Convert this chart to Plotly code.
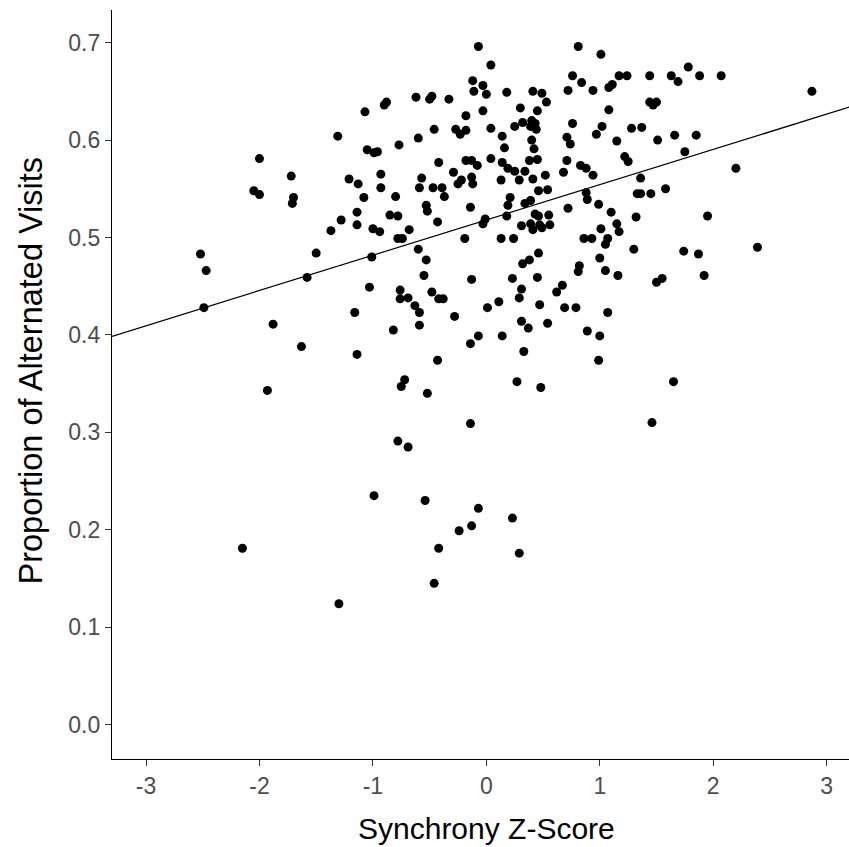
import plotly.graph_objects as go

# Synchrony Z-score (x) and proportion of alternated visits (y)
x_upper_left = [-0.88, -0.90, -1.07, -1.31, -0.77, -1.05, -0.99, -0.96, -2.00, -1.72,
                -1.21, -1.13, -0.93, -0.93, -2.05, -2.00, -1.70, -1.71, -1.08, -0.80,
                -1.14, -0.85, -0.78, -1.28, -1.14, -1.37, -1.00, -0.94]
y_upper_left = [0.639, 0.636, 0.629, 0.604, 0.595, 0.590, 0.587, 0.588, 0.581, 0.563,
                0.560, 0.555, 0.565, 0.551, 0.548, 0.544, 0.541, 0.535, 0.541, 0.542,
                0.526, 0.523, 0.522, 0.518, 0.513, 0.507, 0.509, 0.506]

x_upper_mid = [-0.07, 0.81, 1.01, 0.04, 0.76, 0.84, -0.12, -0.03, -0.11, 0.00,
               0.18, 0.41, 0.49, 0.72, 0.94, 1.08, -0.62, -0.50, -0.48, -0.33,
               0.53, 0.30, 0.45, -0.03, 1.08, -0.18, 0.25, 0.32, 0.40, 0.43,
               0.39, 0.44, 0.76, 1.02, 0.97, -0.46, -0.27, -0.23, -0.18, 0.04,
               -0.60, 0.14, 0.16, 0.40, 0.42, 0.71, 0.74, -0.42, -0.18, -0.13,
               -0.08, 0.04, 0.14, 0.19, 0.25, 0.34, 0.38, 0.45, 0.71, 0.83,
               0.88, 0.94, 0.68, -0.29, -0.25, -0.22, -0.13, -0.12, 0.13, 0.29,
               0.41, 0.52, -0.57, -0.59, -0.47, -0.39, -0.37, 0.46, 0.54, 0.21,
               0.19, 0.18, 0.34, 0.39, 0.88, 0.89, 0.99, -0.53, -0.52, -0.14,
               0.72, 0.43, 0.46, 0.55, -0.43, -0.01, -0.03, 0.31, 0.39, 0.47,
               0.49, 0.41, 0.56, -0.68, 1.01, 1.10]
y_upper_mid = [0.696, 0.696, 0.688, 0.677, 0.666, 0.659, 0.661, 0.656, 0.650, 0.647,
               0.649, 0.650, 0.648, 0.651, 0.651, 0.654, 0.644, 0.642, 0.645, 0.642,
               0.639, 0.633, 0.630, 0.630, 0.631, 0.625, 0.614, 0.618, 0.620, 0.617,
               0.614, 0.611, 0.617, 0.614, 0.606, 0.611, 0.611, 0.606, 0.610, 0.612,
               0.602, 0.604, 0.592, 0.600, 0.591, 0.603, 0.596, 0.577, 0.579, 0.579,
               0.574, 0.581, 0.577, 0.571, 0.568, 0.568, 0.579, 0.580, 0.579, 0.574,
               0.571, 0.564, 0.567, 0.567, 0.555, 0.559, 0.562, 0.555, 0.559, 0.559,
               0.560, 0.564, 0.561, 0.551, 0.551, 0.551, 0.542, 0.548, 0.549, 0.541,
               0.533, 0.522, 0.535, 0.538, 0.546, 0.539, 0.534, 0.533, 0.527, 0.531,
               0.530, 0.524, 0.522, 0.523, 0.516, 0.519, 0.514, 0.512, 0.514, 0.513,
               0.510, 0.508, 0.513, 0.508, 0.509, 0.526]

x_upper_right = [1.78, 1.17, 1.24, 1.44, 1.63, 1.69, 1.88, 2.07, 1.11, 2.87,
                 1.44, 1.50, 1.47, 1.28, 1.37, 1.15, 1.51, 1.66, 1.85, 1.75,
                 1.22, 1.25, 2.20, 1.36, 1.33, 1.36, 1.45, 1.58, 1.32, 1.95,
                 1.15, 1.17]
y_upper_right = [0.675, 0.666, 0.666, 0.666, 0.666, 0.660, 0.666, 0.666, 0.657, 0.650,
                 0.639, 0.639, 0.636, 0.612, 0.613, 0.599, 0.600, 0.605, 0.605, 0.588,
                 0.583, 0.578, 0.571, 0.561, 0.545, 0.545, 0.545, 0.550, 0.521, 0.522,
                 0.514, 0.506]

x_middle_left = [-0.78, -0.74, -2.52, -2.47, -1.50, -1.01, -1.58, -2.49, -1.03, -0.76,
                 -0.76, -1.88, -1.16, -0.82, -1.63, -1.14, -1.93]
y_middle_left = [0.499, 0.499, 0.483, 0.466, 0.484, 0.480, 0.459, 0.428, 0.449, 0.446,
                 0.437, 0.411, 0.423, 0.405, 0.388, 0.380, 0.343]

x_middle_mid = [-0.19, 0.13, 0.24, 0.86, 0.93, 1.07, 1.05, -0.60, -0.53, 0.46,
                0.32, 0.38, 0.82, 0.81, 1.00, 1.05, -0.55, -0.13, 0.23, 0.45,
                -0.69, -0.48, -0.42, -0.38, 0.31, 0.29, 0.67, 0.62, -0.63, -0.59,
                0.11, 0.01, 0.47, 0.69, 0.79, 1.07, -0.28, -0.59, 0.31, 0.37,
                0.54, -0.07, -0.14, 0.14, 0.89, 1.00, 0.33, -0.43, 0.99, -0.72,
                -0.75, -0.52, 0.27, 0.48, -0.14]
y_middle_mid = [0.499, 0.499, 0.499, 0.499, 0.499, 0.499, 0.493, 0.488, 0.477, 0.484,
                0.473, 0.477, 0.471, 0.465, 0.479, 0.466, 0.461, 0.457, 0.458, 0.459,
                0.438, 0.444, 0.437, 0.437, 0.447, 0.438, 0.451, 0.444, 0.430, 0.423,
                0.434, 0.428, 0.431, 0.428, 0.428, 0.423, 0.419, 0.410, 0.414, 0.407,
                0.412, 0.399, 0.391, 0.399, 0.404, 0.399, 0.383, 0.374, 0.374, 0.354,
                0.347, 0.340, 0.352, 0.346, 0.309]

x_middle_right = [1.30, 1.74, 1.87, 2.39, 1.16, 1.50, 1.55, 1.92, 1.65, 1.46]
y_middle_right = [0.488, 0.486, 0.483, 0.490, 0.461, 0.454, 0.458, 0.461, 0.352, 0.310]

x_lower = [-0.78, -0.99, -2.15, -1.30, -0.69, -0.54, -0.07, -0.13, -0.24, 0.23,
           -0.42, 0.29, -0.46]
y_lower = [0.291, 0.235, 0.181, 0.124, 0.285, 0.230, 0.222, 0.204, 0.199, 0.212,
           0.181, 0.176, 0.145]

# Linear fit
fit_intercept = 0.518
fit_slope = 0.0362

x_ticks = [-3, -2, -1, 0, 1, 2, 3]
y_ticks = [0.0, 0.1, 0.2, 0.3, 0.4, 0.5, 0.6, 0.7]
x_range = [-3.3, 3.197]
y_range = [-0.0353, 0.7335]

x_all = (x_upper_left + x_upper_mid + x_upper_right + x_middle_left
         + x_middle_mid + x_middle_right + x_lower)
y_all = (y_upper_left + y_upper_mid + y_upper_right + y_middle_left
         + y_middle_mid + y_middle_right + y_lower)
assert len(x_all) == len(y_all)

line_x = [x_range[0], 3.3]
line_y = [fit_intercept + fit_slope * v for v in line_x]

FONT = "Liberation Sans, Arial, sans-serif"

fig = go.Figure()
fig.add_trace(go.Scatter(
    x=x_all, y=y_all, mode="markers",
    marker=dict(color="black", size=9, line=dict(width=0)),
    showlegend=False, hoverinfo="x+y",
))
fig.add_trace(go.Scatter(
    x=line_x, y=line_y, mode="lines",
    line=dict(color="black", width=1.2),
    showlegend=False, hoverinfo="skip",
))

axis_common = dict(
    showgrid=False, zeroline=False, showline=True, linecolor="black", linewidth=1.3,
    ticks="outside", ticklen=6, tickwidth=1.2, tickcolor="#333333",
    tickfont=dict(family=FONT, size=23, color="#4D4D4D"),
)

fig.update_layout(
    width=849, height=847,
    margin=dict(l=112, r=0, t=10, b=88, pad=0),
    paper_bgcolor="white", plot_bgcolor="white",
    font=dict(family=FONT),
    xaxis=dict(range=x_range, tickvals=x_ticks, ticktext=[str(v) for v in x_ticks], **axis_common),
    yaxis=dict(range=y_range, tickvals=y_ticks, tickformat=".1f", **axis_common),
    annotations=[
        dict(text="Synchrony Z-Score", xref="x", yref="paper", x=0, y=0,
             yanchor="middle", xanchor="center", yshift=-69, showarrow=False,
             font=dict(family=FONT, size=30, color="black")),
        dict(text="Proportion of Alternated Visits", xref="paper", yref="paper",
             x=0, y=0.5, xanchor="center", yanchor="middle", xshift=-82, yshift=14,
             textangle=-90, showarrow=False,
             font=dict(family=FONT, size=32.5, color="black")),
    ],
)

fig.write_html("out.html")
